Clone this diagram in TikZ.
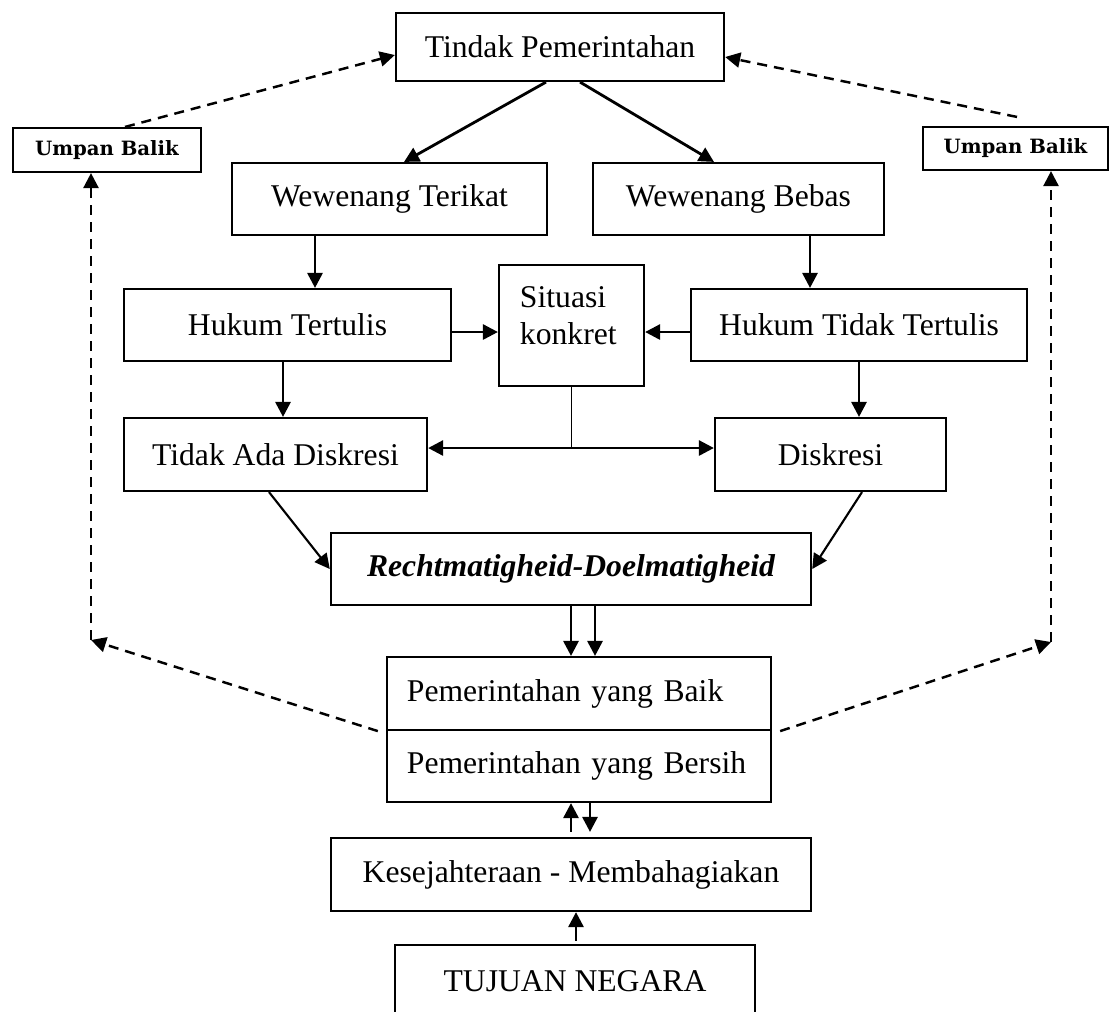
\documentclass[tikz,border=0pt]{standalone}
\usepackage{fontspec}
\setmainfont{Liberation Serif}
\newfontfamily\umpanfont{DejaVu Serif}
\usepackage{tikz}
\usetikzlibrary{arrows.meta,calc}

\begin{document}
\begin{tikzpicture}[x=0.01cm,y=-0.01cm,
    >={Triangle[length=1.5mm,width=1.5mm]},
    box/.style={draw,line width=0.6pt,inner sep=0pt,align=center,
        font=\fontsize{9pt}{10.5pt}\selectfont},
    leftbox/.style={box,align=left,inner xsep=0.2cm},
    umpan/.style={draw,line width=0.6pt,inner sep=0pt,
        font=\umpanfont\bfseries\fontsize{5.6pt}{6.7pt}\selectfont},
    arr/.style={->,line width=0.8pt},
    fb/.style={->,line width=0.7pt,dash pattern=on 0.1cm off 0.07cm}]

    \useasboundingbox (0,0) rectangle (1110,1011);

    % Boxes
    \node[box,minimum width=3.28cm,minimum height=0.68cm] (tindak) at (560,47) {Tindak Pemerintahan};
    \node[umpan,minimum width=1.88cm,minimum height=0.44cm] (umpanL) at (107,150) {Umpan Balik};
    \node[umpan,minimum width=1.85cm,minimum height=0.43cm] (umpanR) at (1015.5,148.5) {Umpan Balik};
    \node[box,minimum width=3.15cm,minimum height=0.72cm] (terikat) at (389.5,199) {Wewenang Terikat};
    \node[box,minimum width=2.91cm,minimum height=0.72cm] (bebas) at (738.5,199) {Wewenang Bebas};
    \node[box,minimum width=3.27cm,minimum height=0.72cm] (tertulis) at (287.5,325) {Hukum Tertulis};
    \node[box,minimum width=1.45cm,minimum height=1.21cm] (situasi) at (571.5,325.5)
        {\parbox[b]{1.03cm}{Situasi\\konkret}\rule[-0.2cm]{0pt}{0.2cm}};
    \node[box,minimum width=3.36cm,minimum height=0.72cm] (tdktertulis) at (859,325) {Hukum Tidak Tertulis};
    \node[box,minimum width=3.03cm,minimum height=0.73cm] (tdkdiskresi) at (275.5,454.5) {Tidak Ada Diskresi};
    \node[box,minimum width=2.31cm,minimum height=0.73cm] (diskresi) at (830.5,454.5) {Diskresi};
    \node[box,minimum width=4.80cm,minimum height=0.72cm] (recht) at (571,569) {\bfseries\itshape Rechtmatigheid-Doelmatigheid};
    \node[leftbox,text width=3.44cm,minimum height=0.73cm] (baik) at (579,693.5) {Pemerintahan yang Baik};
    \node[leftbox,text width=3.44cm,minimum height=0.72cm] (bersih) at (579,766) {Pemerintahan yang Bersih};
    \node[box,minimum width=4.80cm,minimum height=0.73cm] (sejahtera) at (571,874.5) {Kesejahteraan - Membahagiakan};
    \node[box,minimum width=3.60cm,minimum height=0.72cm] (tujuan) at (575,981) {TUJUAN NEGARA};

    % Corners of the feedback loops
    \coordinate (fbL) at (91,640);
    \coordinate (fbR) at (1051,642);
    \coordinate (split) at ($(situasi.south)+(0,62)$);

    % Arrows downwards
    \draw[arr] ($(tindak.south)+(-14,0)$) -- ($(terikat.north)+(14.5,0)$);
    \draw[arr] ($(tindak.south)+(20,0)$) -- ($(bebas.north)+(-24.5,0)$);
    \draw[arr] ($(terikat.south)+(-74.5,0)$) -- ($(tertulis.north)+(27.5,0)$);
    \draw[arr] ($(bebas.south)+(71.5,0)$) -- ($(tdktertulis.north)+(-49,0)$);
    \draw[arr] ($(tertulis.east)+(0,7)$) -- ($(situasi.west)+(0,6.5)$);
    \draw[arr] ($(tdktertulis.west)+(0,7)$) -- ($(situasi.east)+(0,6.5)$);
    \draw[arr] ($(tertulis.south)+(-4.5,0)$) -- ($(tdkdiskresi.north)+(7.5,0)$);
    \draw[arr] (tdktertulis.south) -- ($(diskresi.north)+(28.5,0)$);

    % Situasi to both sides
    \draw[line width=0.4pt] (situasi.south) -- (split);
    \draw[arr,<->] ($(tdkdiskresi.east)+(0,-6.5)$) -- ($(diskresi.west)+(0,-6.5)$);

    \draw[arr,line width=0.6pt] ($(tdkdiskresi.south)+(-6.5,0)$) -- (recht.west);
    \draw[arr,line width=0.6pt] ($(diskresi.south)+(31.5,0)$) -- (recht.east);

    \draw[arr] (recht.south) -- ($(baik.north)+(-8,0)$);
    \draw[arr] ($(recht.south)+(24,0)$) -- ($(baik.north)+(16,0)$);

    \draw[arr] ($(sejahtera.north)+(0,-5)$) -- ($(bersih.south)+(-8,0)$);
    \draw[arr] ($(bersih.south)+(11,0)$) -- ($(sejahtera.north)+(19,-5)$);
    \draw[arr] ($(tujuan.north)+(1,-3)$) -- ($(sejahtera.south)+(5,0)$);

    % Feedback loops
    \draw[fb] ($(baik.south west)+(-8,0)$) -- (fbL);
    \draw[fb] (fbL) -- (umpanL.south -| fbL);
    \draw[fb] ($(umpanL.north)+(18,0)$) -- ($(tindak.west)+(0,8)$);

    \draw[fb] ($(baik.south east)+(8,0)$) -- (fbR);
    \draw[fb] (fbR) -- (umpanR.south -| fbR);
    \draw[fb] ($(umpanR.north)+(1.5,-9)$) -- ($(tindak.east)+(0,10)$);
\end{tikzpicture}
\end{document}
